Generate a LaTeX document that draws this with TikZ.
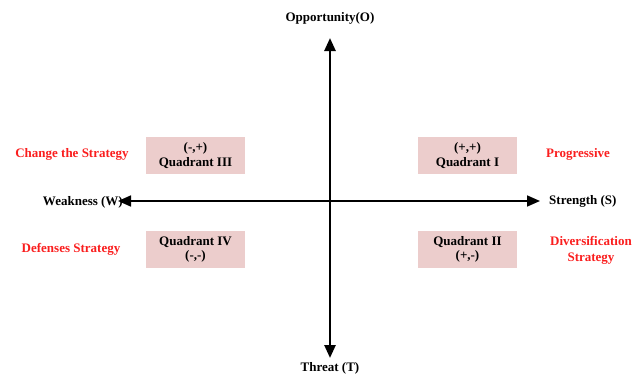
\documentclass[tikz,border=0pt]{standalone}
\usepackage{fontspec}
\setmainfont{Liberation Serif}
\usetikzlibrary{arrows.meta, positioning}
\definecolor{quadfill}{RGB}{236,205,204}
\definecolor{stratred}{RGB}{250,30,30}

\begin{document}
\begin{tikzpicture}[
    x=1pt, y=1pt,
    quad/.style     = {rectangle, fill=quadfill, minimum width=99pt, minimum height=37pt,
                       align=center, inner sep=1pt, font=\fontsize{13}{14.5}\selectfont\bfseries},
    axislabel/.style = {inner sep=0pt, font=\fontsize{13}{14.5}\selectfont\bfseries},
    strat/.style    = {inner sep=0pt, align=center, text=stratred,
                       font=\fontsize{13}{16}\selectfont\bfseries},
    axis/.style     = {{Triangle[length=13pt,width=11pt]}-{Triangle[length=13pt,width=11pt]}},
]
\useasboundingbox (0,0) rectangle (633,376);

% axis ends
\coordinate (top)    at (330,338);
\coordinate (bottom) at (330,18);
\coordinate (left)   at (118,175);
\coordinate (right)  at (540,175);

\node[axislabel] (opp)  at (330,358) {Opportunity(O)};
\node[axislabel] (thr)  at (330,8)   {Threat (T)};
\node[axislabel, anchor=east] (weak) at (123,174) {Weakness (W)};
\node[axislabel, anchor=west] (str)  at (549,175) {Strength (S)};

\draw[axis, line width=2.6pt] (bottom) -- (top);
\draw[axis, line width=1.6pt] (left) -- (right);

% quadrants
\node[quad] (q3) at (195.5,220.5) {(-,+)\\Quadrant III};
\node[quad] (q1) at (467.5,220.5) {(+,+)\\Quadrant I};
\node[quad] (q4) at (195.5,126.5) {Quadrant IV\\(-,-)};
\node[quad] (q2) at (467.5,126.5) {Quadrant II\\(+,-)};

% strategies
\node[strat] (change) at (72,222)  {Change the Strategy};
\node[strat] (def)    at (71,127)  {Defenses Strategy};
\node[strat] (prog)   at (578,222) {Progressive};
\node[strat] (div)    at (591,126) {Diversification\\Strategy};

\end{tikzpicture}
\end{document}
